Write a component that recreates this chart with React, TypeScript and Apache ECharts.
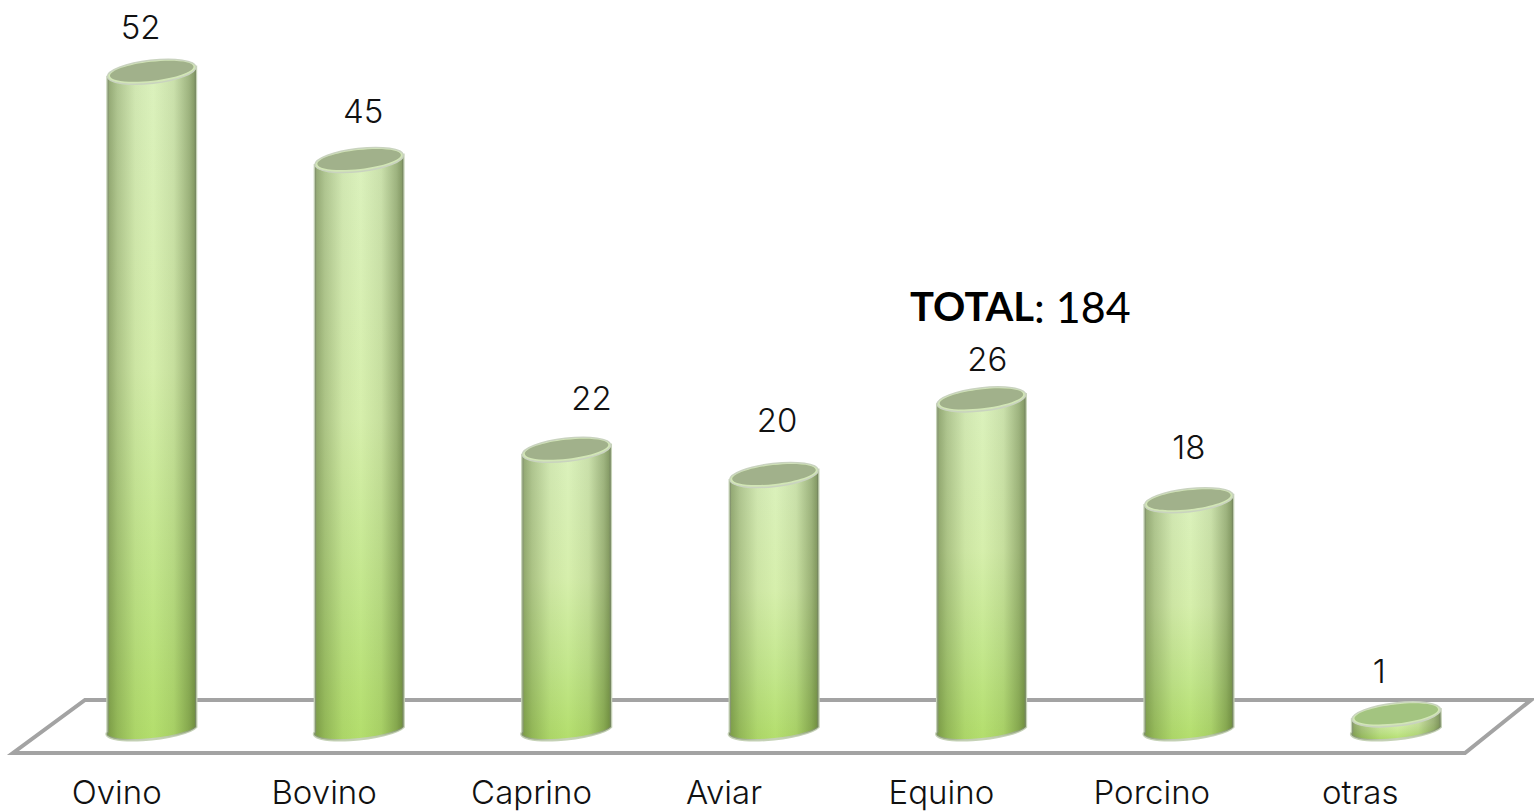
import React, { useEffect, useRef } from "react";
import * as echarts from "echarts";

const categories = ["Ovino", "Bovino", "Caprino", "Aviar", "Equino", "Porcino", "otras"];
const counts = [52, 45, 22, 20, 26, 18, 1];
const totalLabel = "TOTAL";
const totalValue = 184;

// Hand placement of the texts relative to each cylinder (px)
const labelDx = [-11, 4, 25, 3, 6, 0, -17];
const labelDy = [-45, -49, -52, -55, -40, -53, -43];
const categoryDx = [-35, -35, -35, -50, -40, -37, -36];

const RX = 44.5;
const RY = 11.5;
const RY_BOTTOM = 9.5;
const TILT = 0.113;
const FONT = "Inter, Lato, sans-serif";
const TOTAL_FONT = "Lato, sans-serif";

export default function App() {
  const ref = useRef<HTMLDivElement>(null);
  useEffect(() => {
    const chart = echarts.init(ref.current!, null, { renderer: "svg" });

    const renderItem = (params: any, api: any) => {
      const i = api.value(0);
      const v = api.value(1);
      const [cx, yTop] = api.coord([i, v]);
      const [, yBot] = api.coord([i, 0]);
      const dx = RX * Math.cos(TILT);
      const dy = RX * Math.sin(TILT);
      const deg = -(TILT * 180) / Math.PI;
      const d =
        `M ${cx - dx} ${yTop + dy} L ${cx - dx} ${yBot + dy} ` +
        `A ${RX} ${RY_BOTTOM} ${deg} 0 0 ${cx + dx} ${yBot - dy} ` +
        `L ${cx + dx} ${yTop - dy} Z`;
      return {
        type: "group",
        children: [
          {
            type: "path",
            shape: { pathData: d },
            style: {
              fill: {
                type: "linear", x: 0, y: 0, x2: 0, y2: 1,
                colorStops: [
                  { offset: 0, color: "#dbf1bd" },
                  { offset: 0.45, color: "#d6efac" },
                  { offset: 0.75, color: "#c3e78c" },
                  { offset: 1, color: "#b3de6c" },
                ],
              },
              stroke: "#c5d2b6",
              lineWidth: 2.5,
            },
          },
          {
            type: "path",
            shape: { pathData: d },
            style: {
              fill: {
                type: "linear", x: 0, y: 0, x2: 1, y2: 0,
                colorStops: [
                  { offset: 0, color: "rgba(50,70,20,0.46)" },
                  { offset: 0.12, color: "rgba(50,70,20,0.26)" },
                  { offset: 0.32, color: "rgba(50,70,20,0.06)" },
                  { offset: 0.52, color: "rgba(50,70,20,0)" },
                  { offset: 0.75, color: "rgba(50,70,20,0.1)" },
                  { offset: 0.92, color: "rgba(50,70,20,0.36)" },
                  { offset: 1, color: "rgba(50,70,20,0.55)" },
                ],
              },
            },
          },
          {
            type: "ellipse",
            x: cx,
            y: yTop,
            rotation: TILT,
            shape: { cx: 0, cy: 0, rx: RX, ry: RY },
            style: { fill: "#d2e6b6", stroke: "#c9d3bf", lineWidth: 1.5 },
          },
          {
            type: "ellipse",
            x: cx,
            y: yTop - 0.5,
            rotation: TILT,
            shape: { cx: 0, cy: 0, rx: RX - 2.5, ry: RY - 2 },
            style: { fill: v < 5 ? "#a3c480" : "#a1b18b" },
          },
          {
            type: "text",
            style: {
              text: String(v),
              x: cx + labelDx[i],
              y: yTop + labelDy[i],
              align: "center",
              verticalAlign: "middle",
              fontFamily: FONT,
              fontWeight: 300,
              fontSize: 33,
              fill: "#111111",
            },
          },
          {
            type: "text",
            style: {
              text: categories[i],
              x: cx + categoryDx[i],
              y: 792,
              align: "center",
              verticalAlign: "middle",
              fontFamily: FONT,
              fontWeight: 300,
              fontSize: 33,
              fill: "#111111",
            },
          },
        ],
      };
    };

    chart.setOption({
      animation: false,
      backgroundColor: "#ffffff",
      grid: { left: 48, right: 34, top: 71.8, bottom: 84 },
      xAxis: {
        type: "category",
        data: categories,
        axisLine: { show: false },
        axisTick: { show: false },
        axisLabel: { show: false },
      },
      yAxis: { type: "value", min: 0, max: 52, show: false, splitLine: { show: false } },
      graphic: [
        {
          type: "polygon",
          z: 0,
          shape: { points: [[85, 700], [1531, 700], [1465, 753], [13, 753]] },
          style: { fill: "none", stroke: "#a3a3a3", lineWidth: 4 },
        },
        {
          type: "text",
          z: 10,
          x: 910,
          y: 306,
          style: {
            text: `{b|${totalLabel}}{n|: ${totalValue}}`,
            verticalAlign: "middle",
            rich: {
              b: { fontFamily: TOTAL_FONT, fontSize: 40, fontWeight: "bold", fill: "#000000" },
              n: { fontFamily: TOTAL_FONT, fontSize: 43, fill: "#000000" },
            },
          },
        },
      ],
      series: [
        {
          type: "custom",
          z: 5,
          clip: false,
          renderItem,
          encode: { x: 0, y: 1 },
          data: counts.map((c, i) => [i, c]),
        },
      ],
    });
    return () => chart.dispose();
  }, []);
  return (
    <div
      ref={ref}
      style={{ position: "absolute", left: 0, top: 0, width: 1534, height: 811 }}
    />
  );
}
